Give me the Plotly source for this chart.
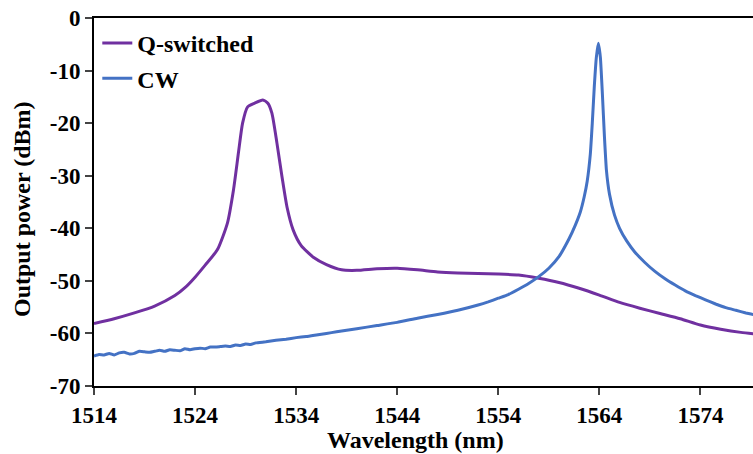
import plotly.graph_objects as go

# Q-switched spectrum
q_wl = [1514, 1516, 1518, 1520, 1522, 1523, 1524, 1525, 1526.2, 1527.2, 1527.8, 1528.3, 1528.7,
        1529.2, 1529.9, 1530.7, 1531.2, 1531.6, 1532.1, 1532.6, 1533.1, 1533.7, 1534.5, 1535.7,
        1537, 1538.5, 1540, 1542, 1544, 1546, 1548, 1550, 1552, 1554, 1556, 1558, 1560, 1562,
        1564, 1566, 1568, 1570, 1572, 1574, 1576, 1578, 1580]
q_dbm = [-58.1, -57.2, -56.1, -54.8, -52.8, -51.3, -49.3, -47.0, -44.1, -39.0, -32.7, -25.5, -20.0,
         -16.9, -16.2, -15.6, -16.2, -18.1, -23.8, -30.2, -36.0, -40.3, -43.3, -45.5,
         -46.9, -47.9, -48.0, -47.7, -47.6, -47.9, -48.3, -48.5, -48.6, -48.7, -48.9, -49.5, -50.3, -51.4,
         -52.7, -54.1, -55.2, -56.2, -57.2, -58.4, -59.2, -59.8, -60.2]

# CW spectrum
cw_wl = [1514, 1514.5, 1515, 1515.5, 1516, 1516.5, 1517, 1517.5, 1518, 1518.5, 1519, 1519.5,
         1520, 1520.5, 1521, 1521.5, 1522, 1522.5, 1523, 1523.5, 1524, 1524.5, 1525, 1525.5,
         1526, 1526.5, 1527, 1527.5, 1528, 1528.5, 1529, 1529.5, 1530, 1531, 1532, 1533, 1534,
         1535, 1536, 1537, 1538, 1539, 1540, 1542,
         1544, 1546, 1548, 1550, 1552, 1553, 1554, 1555, 1556, 1557, 1558, 1559, 1560, 1561,
         1561.6, 1562.1, 1562.5, 1562.8, 1563.1, 1563.3, 1563.5, 1563.7, 1563.9, 1564.1, 1564.3,
         1564.5, 1564.7, 1565.0, 1565.5, 1566, 1566.7, 1567.5, 1568.5, 1569.5, 1570.5, 1571.5,
         1572.5, 1573.5, 1574.5, 1575.5, 1576.5, 1577.5, 1578.5, 1579.5, 1580]
cw_dbm = [-64.3, -64.0, -64.1, -63.8, -64.1, -63.7, -63.6, -63.9, -63.8, -63.4, -63.5, -63.6,
          -63.4, -63.2, -63.4, -63.1, -63.2, -63.3, -62.9, -63.1, -62.9, -62.8, -62.9, -62.6,
          -62.6, -62.5, -62.4, -62.5, -62.2, -62.3, -62.0, -62.1, -61.8, -61.6, -61.3, -61.1, -60.8,
          -60.6, -60.3, -60.0, -59.7, -59.4, -59.1, -58.5,
          -57.9, -57.1, -56.4, -55.6, -54.6, -54.0, -53.3, -52.6, -51.6, -50.5, -49.2, -47.6, -45.4, -42.0,
          -39.5, -37.0, -34.0, -31.0, -26.0, -20.0, -13.0, -7.5, -4.8, -7.5, -14.5,
          -22.5, -29.0, -33.5, -37.5, -40.0, -42.4, -44.5, -46.5, -48.2, -49.6, -50.8,
          -51.9, -52.8, -53.6, -54.4, -55.1, -55.6, -56.1, -56.5, -56.7]

x_ticks = [1514, 1524, 1534, 1544, 1554, 1564, 1574]
y_ticks = [0, -10, -20, -30, -40, -50, -60, -70]

FONT = "Times New Roman, Liberation Serif, serif"

fig = go.Figure()
fig.add_trace(go.Scatter(x=q_wl, y=q_dbm, mode="lines", name="<b>Q-switched</b>",
                         line=dict(color="#7030A0", width=3, shape="spline", smoothing=0.6),
                         legendgroup="a"))
fig.add_trace(go.Scatter(x=cw_wl, y=cw_dbm, mode="lines", name="<b>CW</b>",
                         line=dict(color="#4472C4", width=3, shape="spline", smoothing=0.4),
                         legendgroup="b"))

fig.update_layout(
    width=753, height=454,
    margin=dict(l=94, r=0, t=18, b=68, autoexpand=False),
    paper_bgcolor="white", plot_bgcolor="white",
    font=dict(family=FONT, color="black", size=23),
    showlegend=True,
    legend=dict(x=0.005, y=1.0 - 3 / 368, xanchor="left", yanchor="top",
                bgcolor="rgba(0,0,0,0)", font=dict(family=FONT, size=24),
                tracegroupgap=1, itemwidth=30),
    xaxis=dict(range=[1514, 1579.2], tickvals=x_ticks, ticktext=[f"<b>{v}</b>" for v in x_ticks],
               ticks="outside", ticklen=7, automargin=False,
               tickwidth=2, showline=True, linecolor="black", linewidth=2, mirror=True,
               showgrid=False, zeroline=False,
               tickfont=dict(family=FONT, size=23)),
    yaxis=dict(range=[-70, 0], tickvals=y_ticks, ticktext=[f"<b>{v}</b>" for v in y_ticks],
               ticks="outside", ticklen=7, tickwidth=2, automargin=False,
               showline=True, linecolor="black", linewidth=2, showgrid=False, zeroline=False,
               tickfont=dict(family=FONT, size=23)),
    annotations=[
        dict(text="<b>Wavelength (nm)</b>", xref="paper", yref="paper", x=(415 - 94) / 659,
             y=-(440 - 386) / 368, xanchor="center", yanchor="middle", showarrow=False,
             font=dict(family=FONT, size=24)),
        dict(text="<b>Output power (dBm)</b>", xref="paper", yref="paper", x=-72 / 659,
             y=(386 - 209) / 368, xanchor="center", yanchor="middle", showarrow=False,
             textangle=-90, font=dict(family=FONT, size=24)),
    ],
)

fig.write_html("out.html", config={"displayModeBar": False},
               post_script="document.body.style.margin='0';document.body.style.overflow='hidden';")
